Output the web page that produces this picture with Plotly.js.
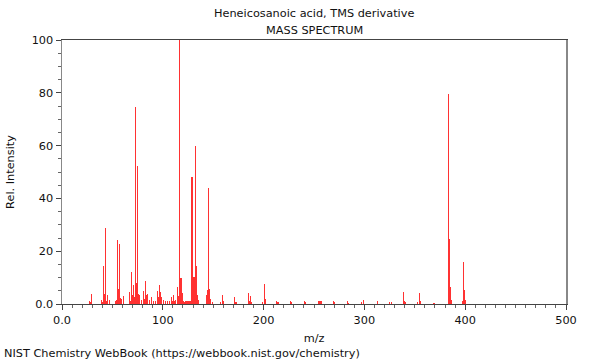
<!DOCTYPE html>
<html>
<head>
<meta charset="utf-8">
<script src="https://cdn.plot.ly/plotly-3.0.1.min.js"></script>
<style>
html,body{margin:0;padding:0;background:#fff;}
#chart{width:600px;height:360px;}
</style>
</head>
<body>
<div id="chart"></div>
<script>
const mz = [27,28,29,39,40,41,42,43,44,45,47,53,54,55,56,57,58,59,61,67,68,69,70,71,72,73,74,75,76,77,79,81,82,83,84,85,87,89,91,93,95,96,97,98,99,101,103,105,107,109,110,111,112,113,115,116,117,118,119,120,121,123,125,127,129,130,131,132,133,134,135,143,144,145,146,147,149,157,159,160,171,172,173,185,186,187,188,199,201,202,213,214,215,227,228,241,242,255,256,257,269,270,283,284,297,299,313,325,327,339,340,341,353,355,356,369,383,384,385,386,397,398,399,400];
const intensity = [1.1,0.8,3.8,1.5,0.6,14.4,3.8,28.8,1.2,3.4,1.5,1.0,1.5,24.2,5.7,22.7,2.1,2.0,3.1,4.7,1.2,12.1,3.6,7.2,2.5,74.5,7.8,52.3,3.8,3.5,1.5,4.8,2.0,8.6,3.3,3.8,1.5,2.5,1.2,1.2,5.0,2.5,7.2,4.7,2.5,1.5,1.0,1.2,1.2,2.8,1.0,3.4,1.0,1.5,6.6,3.0,100,10.0,4.0,1.0,0.8,1.0,1.0,1.0,48.2,6.6,10.3,60.0,14.5,3.4,1.5,3.4,5.3,43.9,5.7,2.0,0.8,0.8,3.3,1.0,2.8,0.8,0.6,4.0,1.0,3.1,0.8,0.8,7.6,1.8,1.2,0.6,0.8,1.2,0.8,1.2,0.7,1.2,1.2,1.0,1.3,0.6,1.0,0.5,0.6,1.5,1.2,0.6,0.6,4.4,1.3,0.7,0.8,4.0,1.3,0.5,79.5,24.5,6.6,1.5,1.0,15.9,5.3,1.5];

const xTickVals = [0,100,200,300,400,500];
const xTickText = ["0.0","100","200","300","400","500"];
const yTickVals = [0,20,40,60,80,100];
const yTickText = ["0.0","20","40","60","80","100"];

const titleLine1 = "Heneicosanoic acid, TMS derivative";
const titleLine2 = "MASS SPECTRUM";
const footer = "NIST Chemistry WebBook (https://webbook.nist.gov/chemistry)";

const font = "DejaVu Sans, sans-serif";
const fs = 11.3;

const trace = {
  type: 'bar',
  x: mz,
  y: intensity,
  width: 1.1,
  marker: {color: 'rgb(255,50,50)', line: {width: 0}},
  hoverinfo: 'x+y'
};

const layout = {
  width: 600, height: 360,
  margin: {l: 62, r: 34, t: 40, b: 56},
  paper_bgcolor: '#fff', plot_bgcolor: '#fff',
  showlegend: false,
  font: {family: font, size: fs, color: '#222'},
  bargap: 0,
  xaxis: {
    range: [0, 500], showgrid: false, zeroline: false,
    showline: true, linecolor: '#444', linewidth: 1, mirror: true,
    ticks: 'outside', ticklen: 5, tickcolor: '#444',
    tickvals: xTickVals, ticktext: xTickText,
    tickfont: {family: font, size: fs, color: '#111'},
    minor: {dtick: 10, tick0: 0, ticks: 'outside', ticklen: 3, tickcolor: '#666', showgrid: false},
    title: {text: 'm/z', font: {family: font, size: fs, color: '#111'}, standoff: 8}
  },
  yaxis: {
    range: [0, 100], showgrid: false, zeroline: false,
    showline: true, linecolor: '#888', linewidth: 1.5, mirror: true,
    ticks: 'outside', ticklen: 5, tickcolor: '#444',
    tickvals: yTickVals, ticktext: yTickText,
    tickfont: {family: font, size: fs, color: '#111'},
    minor: {dtick: 5, tick0: 0, ticks: 'outside', ticklen: 3, tickcolor: '#666', showgrid: false},
    title: {text: 'Rel. Intensity', font: {family: font, size: fs, color: '#111'}, standoff: 14}
  },
  annotations: [
    {text: titleLine1, xref: 'paper', yref: 'paper', x: 0.5, y: 1, yshift: 27, showarrow: false,
     xanchor: 'center', yanchor: 'middle', font: {family: font, size: fs, color: '#111'}},
    {text: titleLine2, xref: 'paper', yref: 'paper', x: 0.5, y: 1, yshift: 10, showarrow: false,
     xanchor: 'center', yanchor: 'middle', font: {family: font, size: fs, color: '#111'}},
    {text: footer, xref: 'paper', yref: 'paper', x: 0, y: 0, xshift: -60, yshift: -49, showarrow: false,
     xanchor: 'left', yanchor: 'middle', font: {family: font, size: fs, color: '#111'}}
  ]
};

Plotly.newPlot('chart', [trace], layout, {displayModeBar: false, staticPlot: true});
</script>
</body>
</html>
